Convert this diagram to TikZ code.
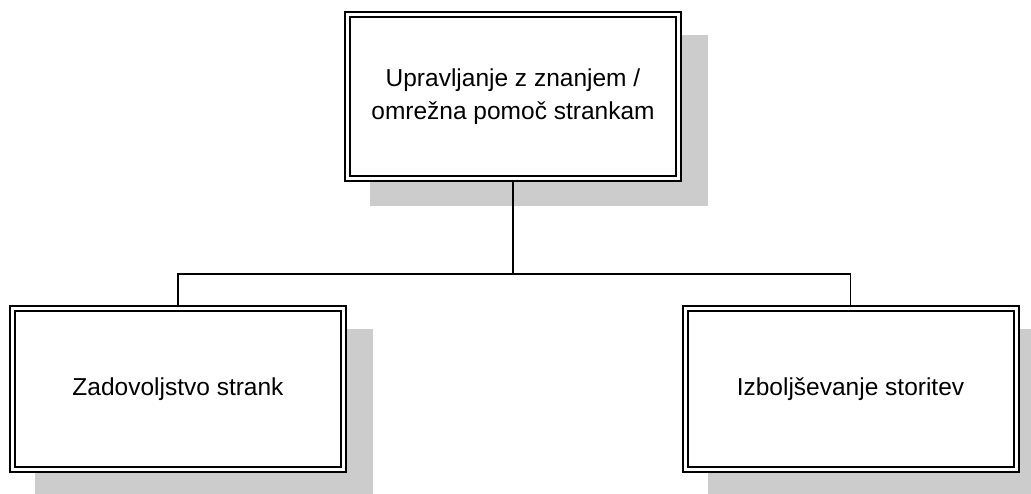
\documentclass[tikz,border=0pt]{standalone}
\usepackage{fontspec}
\setmainfont{Liberation Sans}
\usetikzlibrary{backgrounds}
\definecolor{shadowgray}{RGB}{204,204,204}
\begin{document}
\begin{tikzpicture}[x=1pt,y=-1pt,
  orgbox/.style={draw=black, fill=white, line width=2pt, double=white,
    double distance=3pt, outer sep=3.5pt, inner sep=0pt,
    minimum width=331pt, align=center,
    font=\fontsize{24.5}{32.4}\selectfont},
  boxshadow/.style={fill=shadowgray},
  trunk/.style={line width=2.3pt},
  branch/.style={line width=1.3pt}]
\useasboundingbox (0,0) rectangle (1031,494);

% boxes
\node[orgbox, minimum height=164pt] (top) at (513,96.5)
  {Upravljanje z znanjem /\\omrežna pomoč strankam};
\node[orgbox, minimum height=161pt] (left) at (178,389) {Zadovoljstvo strank};
\node[orgbox, minimum height=161pt] (right) at (850.5,389) {Izboljševanje storitev};

% drop shadows behind the boxes
\begin{scope}[on background layer]
  \foreach \b in {top,left,right}
    \fill[boxshadow] ([shift={(26,24)}]\b.north west) rectangle ([shift={(26,24)}]\b.south east);
\end{scope}

% connectors
\coordinate (bus) at (0,274);
\draw[trunk] (top.south) -- (top.south |- bus);
\draw[branch] (left.north) -- (left.north |- bus) -- (right.north |- bus) -- (right.north);
\end{tikzpicture}
\end{document}
